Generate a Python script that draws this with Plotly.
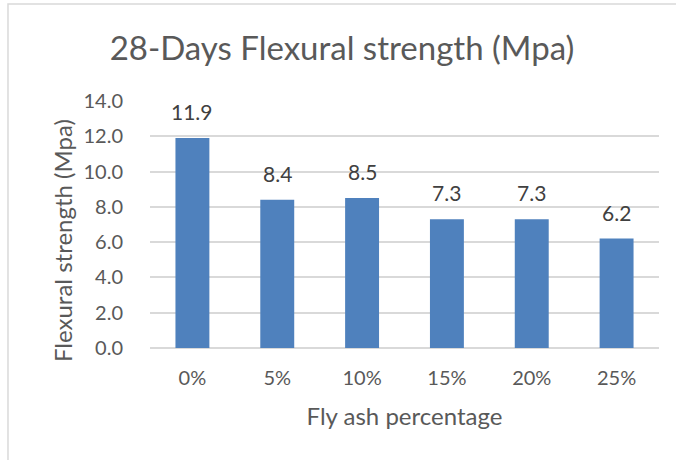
import plotly.graph_objects as go

categories = ["0%", "5%", "10%", "15%", "20%", "25%"]
strength = [11.9, 8.4, 8.5, 7.3, 7.3, 6.2]
y_ticks = [0, 2, 4, 6, 8, 10, 12, 14]
y_tick_labels = [f"{v:.1f}" for v in y_ticks]

FONT = "Lato, 'Open Sans', sans-serif"
TEXT = "#595959"
BAR = "#4F81BD"
GRID = "#D9D9D9"

fig = go.Figure(
    go.Bar(
        x=categories,
        y=strength,
        marker=dict(color=BAR, line=dict(width=0)),
        hoverinfo="skip",
    )
)

# value labels above each bar
for cat, val in zip(categories, strength):
    fig.add_annotation(
        x=cat, y=val, text=f"{val:.1f}", showarrow=False,
        yanchor="bottom", yshift=12,
        font=dict(family=FONT, size=21, color="#404040"),
    )

# vertical axis title, placed close to the tick labels
fig.add_annotation(
    xref="paper", yref="paper", x=-0.173, y=0.437,
    text="Flexural strength (Mpa)", textangle=-90, showarrow=False,
    xanchor="center", yanchor="middle",
    font=dict(family=FONT, size=24, color=TEXT),
)

# chart frame
fig.add_shape(
    type="rect", xref="paper", yref="paper",
    x0=-0.279, x1=1.3, y0=-1.0, y1=1.393,
    line=dict(color="#D9D9D9", width=1.5), fillcolor="rgba(0,0,0,0)",
    layer="below",
)

fig.update_layout(
    width=676, height=460,
    margin=dict(l=150, r=17, t=101, b=112),
    paper_bgcolor="white", plot_bgcolor="white",
    bargap=0.6,
    showlegend=False,
    title=dict(
        text="28-Days Flexural strength (Mpa)",
        x=342 / 676, xanchor="center", xref="container",
        y=1 - 48 / 460, yanchor="middle",
        font=dict(family=FONT, size=33, color=TEXT),
    ),
    xaxis=dict(
        showgrid=False, showline=False, ticks="",
        tickfont=dict(family=FONT, size=20, color=TEXT),
        ticklabelstandoff=16,
        title=dict(text="Fly ash percentage", standoff=20,
                   font=dict(family=FONT, size=24, color=TEXT)),
    ),
    yaxis=dict(
        range=[0, 14], tickvals=y_ticks, ticktext=y_tick_labels,
        showgrid=True, gridcolor=GRID, gridwidth=1.5,
        zeroline=True, zerolinecolor=GRID, zerolinewidth=1.5,
        showline=False, ticks="",
        tickfont=dict(family=FONT, size=20, color=TEXT),
        ticklabelstandoff=26,
    ),
)

fig.write_html("out.html")
